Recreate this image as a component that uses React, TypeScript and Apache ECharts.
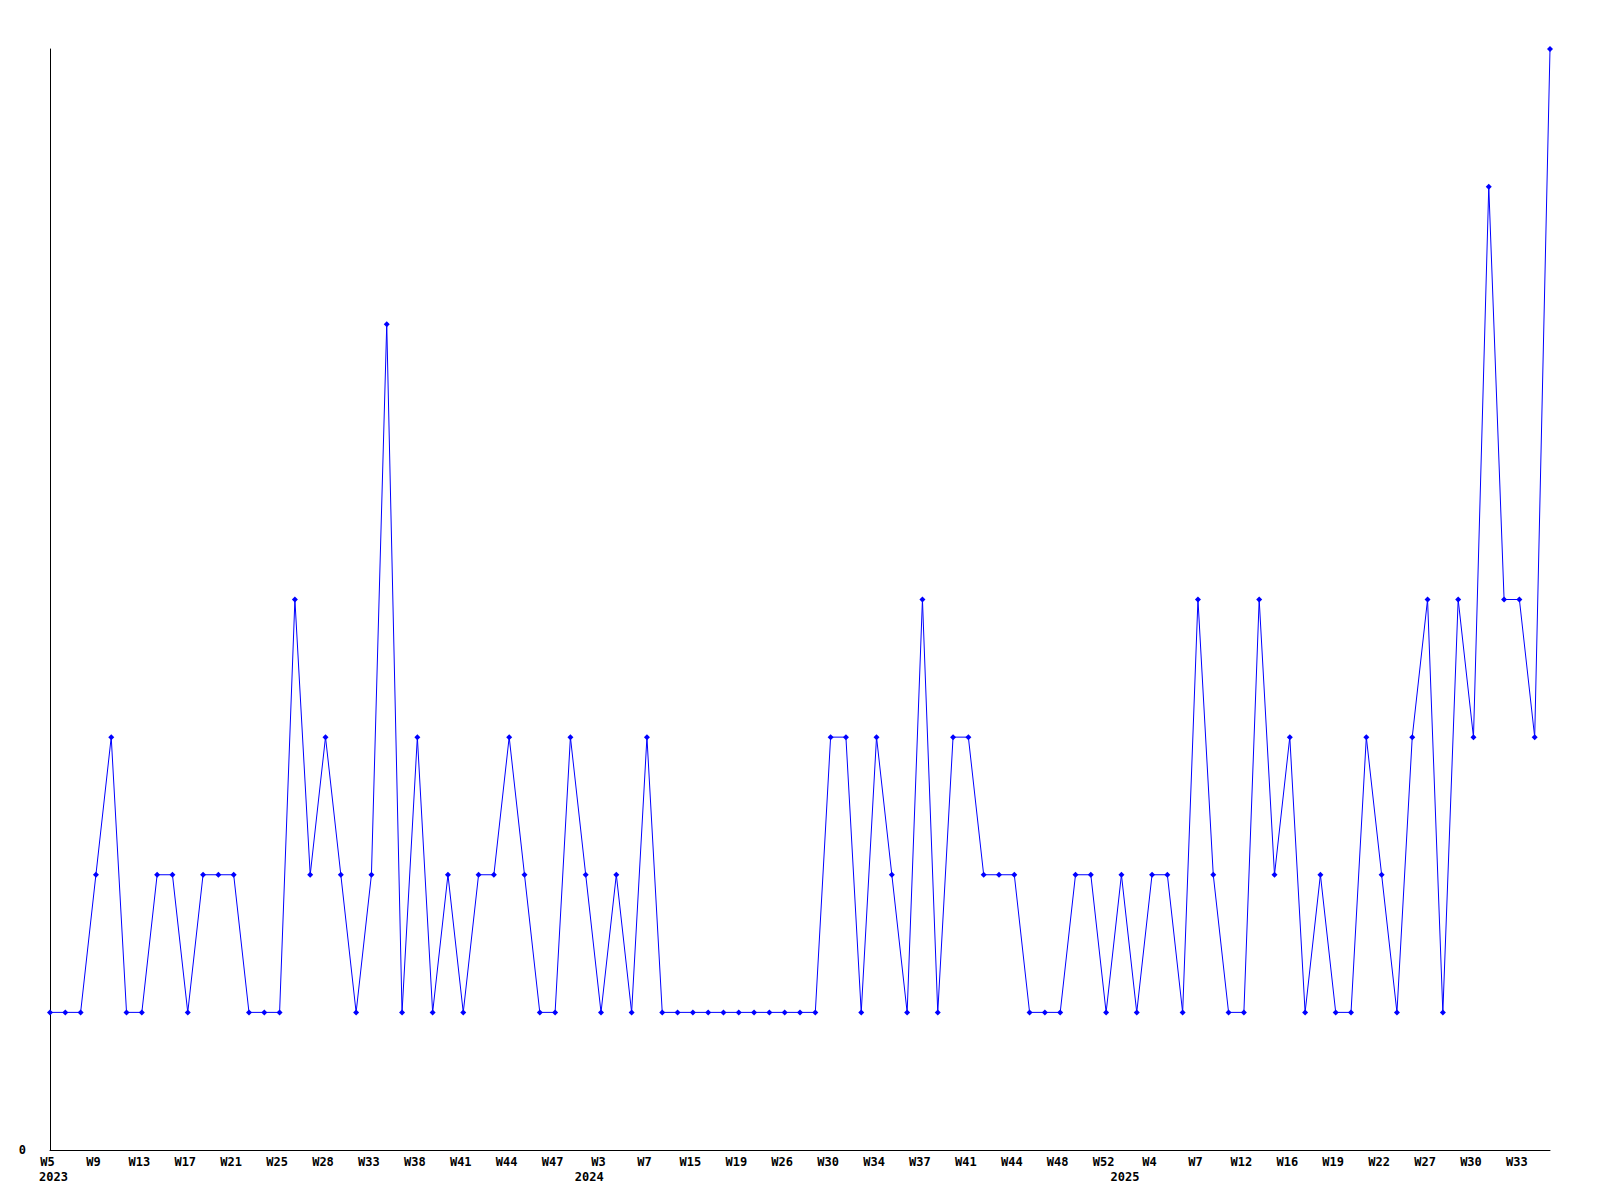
import React, { useEffect, useRef } from "react";
import * as echarts from "echarts";

// Weekly categories (weeks with no entries are absent)
const categories: string[] = [
  "2023 W5", "2023 W6", "2023 W7", "2023 W9", "2023 W10", "2023 W11", "2023 W13", "2023 W14", "2023 W15", "2023 W17",
  "2023 W18", "2023 W19", "2023 W21", "2023 W22", "2023 W23", "2023 W25", "2023 W26", "2023 W27", "2023 W28", "2023 W30",
  "2023 W31", "2023 W33", "2023 W34", "2023 W36", "2023 W38", "2023 W39", "2023 W40", "2023 W41", "2023 W42", "2023 W43",
  "2023 W44", "2023 W45", "2023 W46", "2023 W47", "2023 W50", "2024 W1", "2024 W3", "2024 W5", "2024 W6", "2024 W7",
  "2024 W9", "2024 W12", "2024 W15", "2024 W16", "2024 W18", "2024 W19", "2024 W21", "2024 W24", "2024 W26", "2024 W27",
  "2024 W29", "2024 W30", "2024 W31", "2024 W32", "2024 W34", "2024 W35", "2024 W36", "2024 W37", "2024 W38", "2024 W40",
  "2024 W41", "2024 W42", "2024 W43", "2024 W44", "2024 W45", "2024 W47", "2024 W48", "2024 W49", "2024 W51", "2024 W52",
  "2025 W1", "2025 W3", "2025 W4", "2025 W5", "2025 W6", "2025 W7", "2025 W9", "2025 W11", "2025 W12", "2025 W13",
  "2025 W14", "2025 W16", "2025 W17", "2025 W18", "2025 W19", "2025 W20", "2025 W21", "2025 W22", "2025 W24", "2025 W26",
  "2025 W27", "2025 W28", "2025 W29", "2025 W30", "2025 W31", "2025 W32", "2025 W33", "2025 W34", "2025 W35",
];

const values: number[] = [
  1, 1, 1, 2, 3, 1, 1, 2, 2, 1,
  2, 2, 2, 1, 1, 1, 4, 2, 3, 2,
  1, 2, 6, 1, 3, 1, 2, 1, 2, 2,
  3, 2, 1, 1, 3, 2, 1, 2, 1, 3,
  1, 1, 1, 1, 1, 1, 1, 1, 1, 1,
  1, 3, 3, 1, 3, 2, 1, 4, 1, 3,
  3, 2, 2, 2, 1, 1, 1, 2, 2, 1,
  2, 1, 2, 2, 1, 4, 2, 1, 1, 4,
  2, 3, 1, 2, 1, 1, 3, 2, 1, 3,
  4, 1, 4, 3, 7, 4, 4, 3, 8,
];

const yTicks: number[] = [0, 8];

const FONT = "'DejaVu Sans Mono', monospace";

export default function App() {
  const ref = useRef<HTMLDivElement>(null);

  useEffect(() => {
    if (!ref.current) return;
    const chart = echarts.init(ref.current, undefined, { renderer: "svg" });
    const yearOf = (c: string) => c.split(" ")[0];
    const weekOf = (c: string) => c.split(" ")[1] || "";
    const labelText = (v: string, i: number) => {
      const week = i % 3 === 0 ? weekOf(v) : "";
      const newYear = i === 0 || yearOf(categories[i - 1]) !== yearOf(v);
      if (!week && !newYear) return "";
      const w = week ? `{w|${week}}` : "{w| }";
      return newYear ? `${w}\n{y|${yearOf(v)}}` : w;
    };
    const base = {
      color: "#000",
      fontFamily: FONT,
      fontWeight: "bold",
      fontSize: 12,
      lineHeight: 15,
    };
    const option: any = {
      animation: false,
      backgroundColor: "#ffffff",
      grid: { left: 50, right: 50, top: 49, bottom: 50, containLabel: false },
      xAxis: {
        type: "category",
        data: categories,
        boundaryGap: false,
        axisLine: { show: true, lineStyle: { color: "#000", width: 1 } },
        axisTick: { show: false },
        splitLine: { show: false },
        axisLabel: {
          interval: 0,
          margin: 4,
          ...base,
          formatter: labelText,
          rich: {
            w: { ...base, padding: [0, 5, 0, 0] },
            y: { ...base, padding: [0, 0, 0, 7] },
          },
        },
      },
      yAxis: {
        type: "value",
        min: yTicks[0],
        max: yTicks[yTicks.length - 1],
        interval: yTicks[1] - yTicks[0],
        axisLine: { show: true, lineStyle: { color: "#000", width: 1 } },
        axisTick: { show: false },
        splitLine: { show: false },
        axisLabel: {
          margin: 24,
          color: "#000",
          fontFamily: FONT,
          fontWeight: "bold",
          fontSize: 12,
          formatter: (v: number) => (v === yTicks[0] ? String(v) : ""),
        },
      },
      series: [
        {
          type: "line",
          data: values,
          symbol: "diamond",
          symbolSize: 6,
          showAllSymbol: true,
          color: "#0000ff",
          lineStyle: { color: "#0000ff", width: 1 },
          itemStyle: { color: "#0000ff" },
        },
      ],
    };
    chart.setOption(option);
    return () => chart.dispose();
  }, []);

  return (
    <div
      ref={ref}
      style={{ position: "absolute", left: 0, top: 0, width: 1600, height: 1200, background: "#fff" }}
    />
  );
}
